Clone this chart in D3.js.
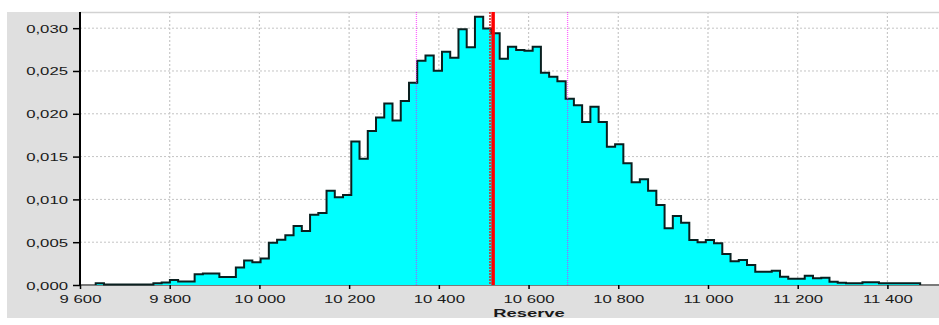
<!DOCTYPE html>
<html>
<head>
<meta charset="utf-8">
<script src="https://cdn.jsdelivr.net/npm/d3@7"></script>
<style>
  html, body { margin: 0; padding: 0; background: #fff; }
  #chart { width: 939px; height: 325px; }
  text { font-family: "Liberation Sans", Arial, sans-serif; fill: #1a1a1a; }
</style>
</head>
<body>
<div id="chart"></div>
<script>
// histogram of simulated reserve, 100 equal bins
var binStart = 9635;
var binWidth = 18.38;
var density = [
  0.0002, 0.00005, 0.00005, 0.00005, 0.00005, 0.00005, 0.00005, 0.0002, 0.0003, 0.00057,
  0.0004, 0.0004, 0.00125, 0.00133, 0.00133, 0.00094, 0.00094, 0.00205, 0.00285, 0.00265,
  0.0031, 0.00495, 0.0053, 0.0058, 0.0069, 0.0063, 0.0082, 0.0084, 0.011, 0.01024,
  0.0105, 0.01675, 0.01476, 0.018, 0.01958, 0.0212, 0.01923, 0.0215, 0.02364, 0.0262,
  0.0268, 0.02504, 0.02726, 0.02656, 0.02987, 0.02777, 0.03134, 0.02995, 0.0294, 0.02644,
  0.02784, 0.02745, 0.02737, 0.02784, 0.0248, 0.02434, 0.0238, 0.02176, 0.021, 0.01904,
  0.02083, 0.01904, 0.01616, 0.01643, 0.01422, 0.012, 0.01235, 0.011, 0.00935, 0.00662,
  0.00806, 0.00728, 0.00526, 0.00499, 0.00526, 0.00487, 0.00362, 0.00277, 0.00292, 0.00234,
  0.00156, 0.00156, 0.00167, 0.00097, 0.00074, 0.00074, 0.00109, 0.0008, 0.00085, 0.00039,
  0.00027, 0.0002, 0.0002, 0.00031, 0.00031, 0.0002, 0.0002, 0.0002, 0.0002, 0.0002
];

// x / y ticks
var xTicks = [9600, 9800, 10000, 10200, 10400, 10600, 10800, 11000, 11200, 11400];
var yTicks = [0, 0.005, 0.010, 0.015, 0.020, 0.025, 0.030];

// reference lines: quantiles (magenta), median (dotted) and mean (red)
var quantileLines = [10350, 10687];
var medianLine = 10514;
var meanLine = 10521;

var xLabel = "Reserve";

var width = 939, height = 325;
var margin = { top: 12, right: 0, bottom: 40, left: 80 };
var plotBottom = height - margin.bottom;   // 285
var plotRight = width - margin.right;

var locale = d3.formatLocale({ decimal: ",", thousands: " ", grouping: [3], currency: ["", ""] });
var fmtX = locale.format(",d");
var fmtY = locale.format(".3f");

var x = d3.scaleLinear().domain([9600, 11515]).range([margin.left, plotRight]);
var y = d3.scaleLinear().domain([0, 0.03189]).range([plotBottom, margin.top]);

var svg = d3.select("#chart").append("svg")
    .attr("width", width)
    .attr("height", height);

// grey frame round the plot
svg.append("rect")
    .attr("x", 7).attr("y", margin.top)
    .attr("width", width - 7).attr("height", 306)
    .attr("fill", "#dfdfdf");
svg.append("rect")
    .attr("x", margin.left).attr("y", margin.top)
    .attr("width", plotRight - margin.left).attr("height", plotBottom - margin.top)
    .attr("fill", "#fff");

// dotted grid
svg.append("g").selectAll("line.hgrid")
    .data(yTicks.slice(1))
    .enter().append("line")
    .attr("class", "hgrid")
    .attr("x1", margin.left).attr("x2", plotRight)
    .attr("y1", function (d) { return y(d); }).attr("y2", function (d) { return y(d); })
    .attr("stroke", "#c4c4c4").attr("stroke-dasharray", "2,2");
svg.append("g").selectAll("line.vgrid")
    .data(xTicks.slice(1))
    .enter().append("line")
    .attr("class", "vgrid")
    .attr("x1", function (d) { return x(d); }).attr("x2", function (d) { return x(d); })
    .attr("y1", margin.top).attr("y2", plotBottom)
    .attr("stroke", "#c8c8c8").attr("stroke-width", 1.2).attr("stroke-dasharray", "2,2");

svg.append("line")
    .attr("x1", margin.left).attr("x2", plotRight)
    .attr("y1", margin.top + 0.5).attr("y2", margin.top + 0.5)
    .attr("stroke", "#d2d2d2").attr("stroke-width", 1.5);

// bottom axis line (grey)
svg.append("line")
    .attr("x1", margin.left).attr("x2", plotRight)
    .attr("y1", plotBottom).attr("y2", plotBottom)
    .attr("stroke", "#7a7a7a").attr("stroke-width", 2);

// histogram as a step outline
var steps = [[x(binStart), y(0)]];
density.forEach(function (d, i) {
    steps.push([x(binStart + i * binWidth), y(d)]);
    steps.push([x(binStart + (i + 1) * binWidth), y(d)]);
});
steps.push([x(binStart + density.length * binWidth), y(0)]);

svg.append("path")
    .attr("d", "M" + steps.map(function (p) { return p.join(","); }).join("L") + "Z")
    .attr("fill", "#00ffff");
svg.append("path")
    .attr("d", d3.line()(steps))
    .attr("fill", "none")
    .attr("stroke", "#0a2020")
    .attr("stroke-width", 2)
    .attr("stroke-linejoin", "miter");

// reference lines
svg.selectAll("line.quant")
    .data(quantileLines)
    .enter().append("line")
    .attr("class", "quant")
    .attr("x1", function (d) { return x(d); }).attr("x2", function (d) { return x(d); })
    .attr("y1", margin.top).attr("y2", plotBottom)
    .attr("stroke", "#ff00ff").attr("stroke-opacity", 0.6)
    .attr("stroke-width", 1.3).attr("stroke-dasharray", "1,1");
svg.append("line")
    .attr("x1", x(medianLine)).attr("x2", x(medianLine))
    .attr("y1", margin.top).attr("y2", plotBottom)
    .attr("stroke", "#c82828").attr("stroke-width", 1.5).attr("stroke-dasharray", "2,1");
svg.append("line")
    .attr("x1", x(meanLine)).attr("x2", x(meanLine))
    .attr("y1", margin.top).attr("y2", plotBottom)
    .attr("stroke", "#ff0000").attr("stroke-width", 3.5);

// axes - labels are stretched horizontally like the original
var stretch = 1.55;

var gx = svg.append("g")
    .attr("transform", "translate(0," + plotBottom + ")")
    .call(d3.axisBottom(x).tickValues(xTicks).tickFormat(fmtX).tickSizeInner(4).tickSizeOuter(0));
gx.select(".domain").remove();
gx.selectAll(".tick line").attr("stroke", "#000").attr("stroke-width", 1.5);
gx.selectAll(".tick text")
    .attr("x", null).attr("y", null).attr("dy", null)
    .attr("fill", "#1a1a1a")
    .style("font-size", "10.8px")
    .attr("text-anchor", "middle")
    .attr("transform", "translate(0,17.7) scale(" + stretch + ",1)");

var gy = svg.append("g")
    .attr("transform", "translate(" + margin.left + ",0)")
    .call(d3.axisLeft(y).tickValues(yTicks).tickFormat(fmtY).tickSizeInner(7).tickSizeOuter(0));
gy.select(".domain").remove();
gy.selectAll(".tick line").attr("stroke", "#000").attr("stroke-width", 1.5);
gy.selectAll(".tick text")
    .attr("x", null).attr("dy", null)
    .attr("fill", "#1a1a1a")
    .style("font-size", "10.8px")
    .attr("text-anchor", "end")
    .attr("transform", "translate(-12,4) scale(" + stretch + ",1)");

svg.append("line")
    .attr("x1", margin.left).attr("x2", margin.left)
    .attr("y1", margin.top).attr("y2", plotBottom + 1)
    .attr("stroke", "#000").attr("stroke-width", 2);

// x axis title
svg.append("text")
    .attr("transform", "translate(529,316.5) scale(1.6,1)")
    .attr("text-anchor", "middle")
    .style("font-size", "11.5px")
    .style("font-weight", "bold")
    .text(xLabel);
</script>
</body>
</html>
